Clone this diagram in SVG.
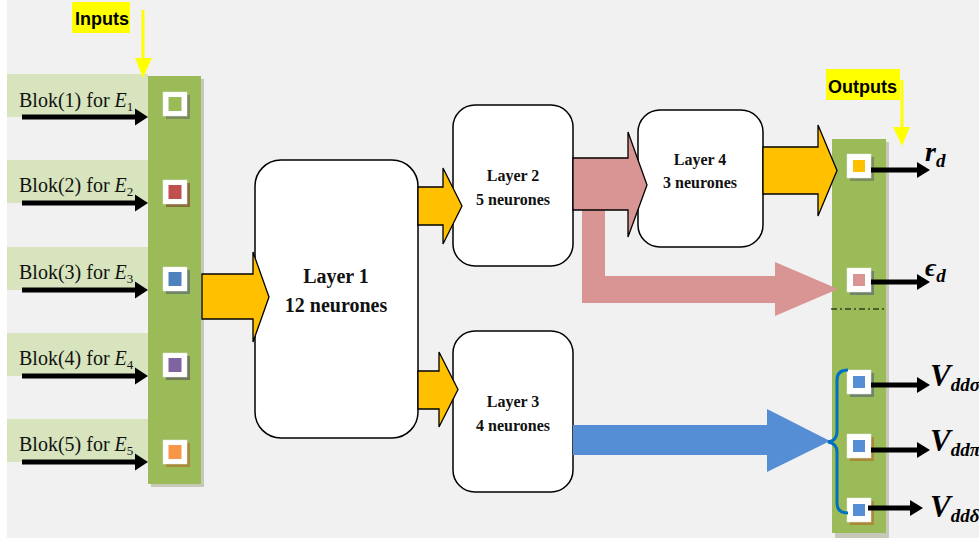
<svg xmlns="http://www.w3.org/2000/svg" width="979" height="540" viewBox="0 0 979 540">
<defs>
<style>
.bg{fill:#f1f1f1}
.bar{fill:#9bbb59}
.barsh{fill:#c6c9b8}
.strip{fill:#d7e4bd}
.box{fill:#ffffff;stroke:#000;stroke-width:1.5}
.lay{font-family:'Liberation Serif','Tinos','DejaVu Serif',serif;font-weight:bold;text-anchor:middle;fill:#111}
.blok{font-family:'Liberation Serif','Tinos','DejaVu Serif',serif;font-size:20px;fill:#111}
.hl{fill:#ffff00}
.lbl{font-family:'Liberation Sans',Arial,sans-serif;font-weight:bold;font-size:18px;fill:#000}
.ya{fill:#ffc000;stroke:#000;stroke-width:1.3;stroke-linejoin:miter}
.blk{fill:#000}
.sqw{fill:#ffffff;stroke:#e8e8e8;stroke-width:0.5}
.out{font-family:'Liberation Serif','Tinos','DejaVu Serif',serif;font-style:italic;font-weight:bold;fill:#000}
</style>
</defs>
<rect x="0" y="0" width="979" height="540" fill="#ffffff"/>
<rect class="bg" x="7" y="0" width="972" height="538"/>

<!-- inputs column -->
<g id="inputs">
<rect class="barsh" x="151" y="79" width="53" height="408"/>
<rect class="bar" x="148" y="76" width="53" height="408"/>
<rect class="strip" x="7" y="74" width="141" height="43"/>
<rect class="strip" x="7" y="160" width="141" height="43"/>
<rect class="strip" x="7" y="247" width="141" height="43"/>
<rect class="strip" x="7" y="333" width="141" height="43"/>
<rect class="strip" x="7" y="419" width="141" height="43"/>
<text class="blok" x="19" y="107">Blok(1) for <tspan font-style="italic">E</tspan><tspan font-size="13" dy="4">1</tspan></text>
<text class="blok" x="19" y="192">Blok(2) for <tspan font-style="italic">E</tspan><tspan font-size="13" dy="4">2</tspan></text>
<text class="blok" x="19" y="279">Blok(3) for <tspan font-style="italic">E</tspan><tspan font-size="13" dy="4">3</tspan></text>
<text class="blok" x="19" y="365">Blok(4) for <tspan font-style="italic">E</tspan><tspan font-size="13" dy="4">4</tspan></text>
<text class="blok" x="19" y="451">Blok(5) for <tspan font-style="italic">E</tspan><tspan font-size="13" dy="4">5</tspan></text>
<rect class="hl" x="72" y="2" width="58" height="31"/>
<text class="lbl" x="75" y="25">Inputs</text>
</g>

<!-- left squares -->
<g id="in-squares">
<rect x="166" y="95" width="24" height="24" fill="#7d8c5c"/>
<rect class="sqw" x="163" y="92" width="24" height="24"/>
<rect x="168.5" y="97" width="13" height="14" fill="#9bbb59"/>
<rect x="166" y="183" width="24" height="24" fill="#8b6e3c"/>
<rect class="sqw" x="163" y="180" width="24" height="24"/>
<rect x="168.5" y="185" width="13" height="14" fill="#c0504d"/>
<rect x="166" y="270" width="24" height="24" fill="#6f8468"/>
<rect class="sqw" x="163" y="267" width="24" height="24"/>
<rect x="168.5" y="272" width="13" height="14" fill="#4f81bd"/>
<rect x="166" y="356" width="24" height="24" fill="#6f7a58"/>
<rect class="sqw" x="163" y="353" width="24" height="24"/>
<rect x="168.5" y="358" width="13" height="14" fill="#8064a2"/>
<rect x="166" y="443" width="24" height="24" fill="#a88a3a"/>
<rect class="sqw" x="163" y="440" width="24" height="24"/>
<rect x="168.5" y="445" width="13" height="14" fill="#f79646"/>
</g>

<!-- outputs column -->
<g id="outputs">
<rect class="barsh" x="835" y="142" width="54" height="396"/>
<rect class="bar" x="832" y="139" width="54" height="394"/>
<rect class="hl" x="826" y="69" width="74" height="31"/>
<text class="lbl" x="828" y="93">Outputs</text>
<line x1="831" y1="309" x2="884" y2="309" stroke="#000" stroke-width="1.2" stroke-dasharray="6 3 2 3"/>
<rect x="850" y="157" width="24" height="24" fill="#7d8c5c"/>
<rect class="sqw" x="847" y="154" width="24" height="24"/>
<rect x="853" y="160" width="12" height="12" fill="#ffc000"/>
<rect x="850" y="271" width="24" height="24" fill="#6f8468"/>
<rect class="sqw" x="847" y="268" width="24" height="24"/>
<rect x="853" y="274" width="12" height="12" fill="#d99594"/>
<rect x="850" y="373" width="24" height="24" fill="#6f8468"/>
<rect class="sqw" x="847" y="370" width="24" height="24"/>
<rect x="853" y="376" width="12" height="12" fill="#558ed5"/>
<rect x="850" y="437" width="24" height="24" fill="#a88a3a"/>
<rect class="sqw" x="847" y="434" width="24" height="24"/>
<rect x="853" y="440" width="12" height="12" fill="#558ed5"/>
<rect x="850" y="501" width="24" height="24" fill="#a88a3a"/>
<rect class="sqw" x="847" y="498" width="24" height="24"/>
<rect x="853" y="504" width="12" height="12" fill="#558ed5"/>
<text class="out" x="925" y="161" font-size="28">r<tspan font-size="19" dy="6">d</tspan></text>
<text class="out" x="925" y="276" font-size="26">ϵ<tspan font-size="19" dy="6">d</tspan></text>
<text class="out" x="930" y="386" font-size="31">V<tspan font-size="19" dy="5">ddσ</tspan></text>
<text class="out" x="930" y="451" font-size="31">V<tspan font-size="19" dy="5">ddπ</tspan></text>
<text class="out" x="930" y="517" font-size="31">V<tspan font-size="19" dy="5">ddδ</tspan></text>
</g>

<!-- layers -->
<g id="layer1">
<rect class="box" x="255" y="160" width="163" height="278" rx="26" ry="26"/>
<text class="lay" x="336" y="283" font-size="20">Layer 1</text>
<text class="lay" x="336" y="312" font-size="20">12 neurones</text>
</g>
<g id="layer2">
<rect class="box" x="453" y="105" width="120" height="161" rx="22" ry="22"/>
<text class="lay" x="513" y="181" font-size="16">Layer 2</text>
<text class="lay" x="513" y="205" font-size="16">5 neurones</text>
</g>
<g id="layer3">
<rect class="box" x="453" y="331" width="120" height="161" rx="22" ry="22"/>
<text class="lay" x="513" y="407" font-size="16">Layer 3</text>
<text class="lay" x="513" y="431" font-size="16">4 neurones</text>
</g>
<g id="layer4">
<rect class="box" x="638" y="110" width="125" height="137" rx="22" ry="22"/>
<text class="lay" x="700" y="165" font-size="16">Layer 4</text>
<text class="lay" x="700" y="188" font-size="16">3 neurones</text>
</g>

<!-- connectors -->
<g id="connectors">
<line x1="143" y1="10" x2="143" y2="60" stroke="#ffff00" stroke-width="3"/>
<path d="M135,58 H152 L143,78 Z" fill="#ffff00"/>
<line x1="902" y1="80" x2="902" y2="129" stroke="#ffff00" stroke-width="3"/>
<path d="M893,127 H910 L902,146 Z" fill="#ffff00"/>

<path class="blk" d="M22,114.5 H135 V108.5 L148,117 L135,125.5 V119.5 H22 Z"/>
<path class="blk" d="M22,200.5 H135 V194.5 L148,203 L135,211.5 V205.5 H22 Z"/>
<path class="blk" d="M22,287.5 H135 V281.5 L148,290 L135,298.5 V292.5 H22 Z"/>
<path class="blk" d="M22,373.5 H135 V367.5 L148,376 L135,384.5 V378.5 H22 Z"/>
<path class="blk" d="M22,459.5 H135 V453.5 L148,462 L135,470.5 V464.5 H22 Z"/>

<path class="ya" d="M202,274 H253 V252 L269,297 L253,342 V319 H202 Z"/>
<path class="ya" d="M418,187 H443 V168 L462,206 L443,244 V225 H418 Z"/>
<path class="ya" d="M418,371 H439 V352 L458,389.5 L439,427 V409 H418 Z"/>

<path d="M582,205 V303 H775 V316 L838,289 L775,262 V276 H605 V205 Z" fill="#d99594"/>
<path d="M573,158 H628 V132 L647,185 L628,237 V210 H573 Z" fill="#d99594" stroke="#000" stroke-width="1.3"/>
<path class="ya" d="M763,147 H818 V125 L837,170.5 L818,216 V194 H763 Z"/>
<path d="M573,425 H767 V409 L830,441 L767,472 V455 H573 Z" fill="#558ed5"/>

<path d="M848,370 C841,370 837,373 837,380 V432 C837,438 834,441 828,442 C834,443 837,446 837,452 V503 C837,510 841,513 848,513" fill="none" stroke="#0070c0" stroke-width="3"/>

<path class="blk" d="M871,167.5 H917 V162 L930,170 L917,178 V172.5 H871 Z"/>
<path class="blk" d="M871,279.5 H917 V274 L930,282 L917,290 V284.5 H871 Z"/>
<path class="blk" d="M871,382.5 H917 V377 L930,385 L917,393 V387.5 H871 Z"/>
<path class="blk" d="M871,447.5 H917 V442 L930,450 L917,458 V452.5 H871 Z"/>
<path class="blk" d="M868,505.5 H910 V500 L923,508 L910,516 V510.5 H868 Z"/>
</g>
</svg>
